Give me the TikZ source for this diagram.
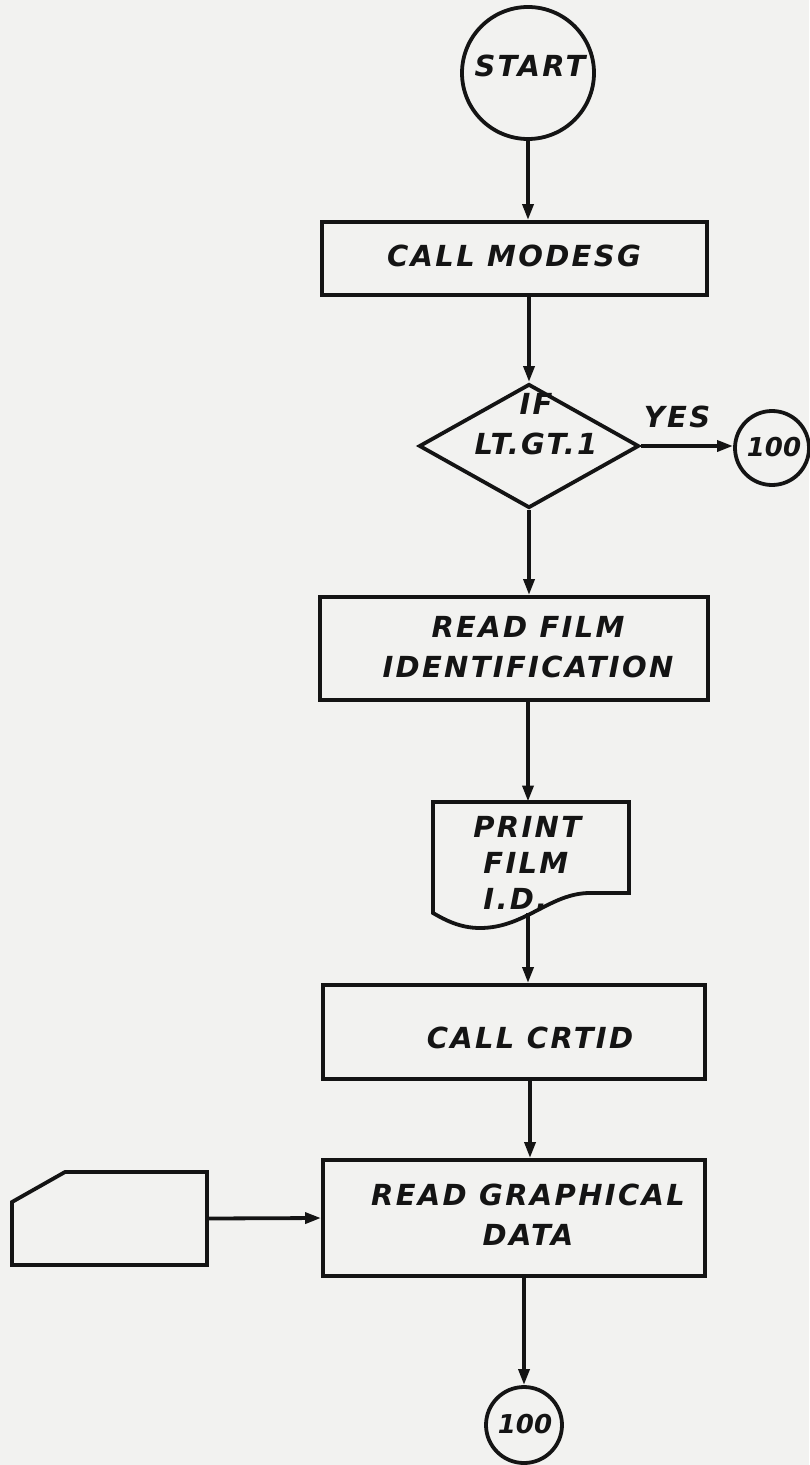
\documentclass[tikz,border=0pt]{standalone}
\usepackage{fontspec}
\setmainfont{DejaVu Sans}
\newfontfamily\lettering{DejaVu Sans}[LetterSpace=8]
\newfontfamily\digits{DejaVu Sans}[LetterSpace=0]
\usetikzlibrary{shapes.geometric,arrows.meta}
\definecolor{paper}{RGB}{242,242,240}
\definecolor{ink}{RGB}{20,20,20}
\begin{document}
\begin{tikzpicture}[x=0.5pt,y=-0.5pt,
  ln/.style={draw=ink, line width=1.9pt},
  boxnode/.style={ln, rectangle, inner sep=0pt},
  conn/.style={ln, circle, inner sep=0pt},
  ghost/.style={rectangle, inner sep=0pt},
  txt/.style={text=ink, inner sep=0pt, font=\lettering\bfseries\itshape\fontsize{14.5pt}{20pt}\selectfont},
  numtxt/.style={text=ink, inner sep=0pt, font=\digits\bfseries\itshape\fontsize{13pt}{15pt}\selectfont},
  arr/.style={ln, -{Triangle[length=8pt,width=5.4pt]}}]
\fill[paper] (0,0) rectangle (809,1465);
\useasboundingbox (0,0) rectangle (809,1465);

% shapes
\node[conn, minimum size=66pt] (start) at (528,73) {};
\node[txt] (starttxt) at (530,66) {START};

\node[boxnode, minimum width=192.5pt, minimum height=36.5pt] (modesg) at (514.5,258.5) {};
\node[txt] (modesgtxt) at (514,256) {CALL MODESG};

\node[ln, diamond, inner sep=0pt, minimum width=110pt, minimum height=62pt] (dec) at (529,446) {};
\node[txt, align=center] (dectxt) at (536,424) {IF\\LT.GT.1};

\node[txt] (yes) at (677,417) {YES};
\node[conn, minimum size=37pt] (c1) at (772,448) {};
\node[numtxt] (c1txt) at (774,447) {100};

\node[boxnode, minimum width=194pt, minimum height=51.5pt] (readfilm) at (514,648.5) {};
\node[txt, align=center] (readfilmtxt) at (528,647) {READ FILM\\IDENTIFICATION};

\node[ghost, minimum width=98pt, minimum height=55.5pt] (print) at (531,857.5) {};
\draw[ln, line join=miter] (433,913) -- (433,802) -- (629,802) -- (629,893) -- (590,893)
  .. controls (550,893) and (525,928) .. (480,928)
  .. controls (460,928) and (445,920) .. (433,913) -- cycle;
\node[txt, align=left, anchor=west, font=\lettering\bfseries\itshape\fontsize{14.5pt}{18pt}\selectfont] (printtxt) at (473,863) {PRINT\\\hspace*{5pt}FILM\\\hspace*{5pt}I.D.};
\coordinate (printbot) at (528,913);

\node[boxnode, minimum width=191pt, minimum height=47pt] (crtid) at (514,1032) {};
\node[txt] (crtidtxt) at (530,1038) {CALL CRTID};

\node[boxnode, minimum width=191pt, minimum height=58pt] (readgr) at (514,1218) {};
\node[txt, align=center] (readgrtxt) at (528,1215) {READ GRAPHICAL\\DATA};

\node[ghost, minimum width=97.5pt, minimum height=46.5pt] (card) at (109.5,1218.5) {};
\draw[ln, line join=miter] (65,1172) -- (207,1172) -- (207,1265) -- (12,1265) -- (12,1202) -- cycle;

\node[conn, minimum size=38pt] (c2) at (524,1425) {};
\node[numtxt] (c2txt) at (525,1424) {100};

% connectors
\draw[arr] (start.south) -- (start.south |- modesg.north);
\draw[arr] (dec.north |- modesg.south) -- (dec.north);
\draw[arr] (dec.east) -- (dec.east -| c1.west);
\draw[arr] (dec.south) -- (dec.south |- readfilm.north);
\draw[arr] (printbot |- readfilm.south) -- (printbot |- print.north);
\draw[arr] (printbot) -- (printbot |- crtid.north);
\draw[arr] (crtidtxt.south |- crtid.south) -- (crtidtxt.south |- readgr.north);
\draw[arr] (card.east) -- (readgr.west);
\draw[arr] (c2.north |- readgr.south) -- (c2.north);
\end{tikzpicture}
\end{document}
